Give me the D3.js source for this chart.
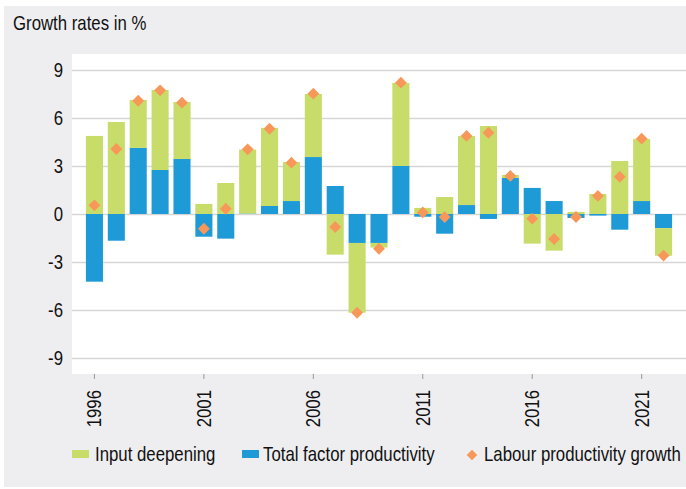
<!DOCTYPE html>
<html>
<head>
<meta charset="utf-8">
<script src="https://cdn.jsdelivr.net/npm/d3@7"></script>
<style>
  body { margin: 0; background: #fff; }
  svg { display: block; }
  text { font-family: "Liberation Sans", Arial, sans-serif; fill: #111; }
</style>
</head>
<body>
<script>
// data
const years = d3.range(1996, 2023);
const inputDeepening = [4.88, 5.75, 3.0, 5.0, 3.56, 0.63, 1.94, 4.0, 4.88, 2.44, 3.94, -2.54, -4.36, -0.29, 5.19, 0.38, 1.06, 4.31, 5.5, 0.19, -1.85, -2.29, 0.13, 1.25, 3.31, 3.88, -1.73];
const tfp = [-4.23, -1.67, 4.13, 2.75, 3.44, -1.42, -1.54, 0.03, 0.5, 0.81, 3.56, 1.75, -1.81, -1.81, 3.0, -0.17, -1.23, 0.56, -0.31, 2.25, 1.63, 0.81, -0.25, -0.1, -0.98, 0.81, -0.88];
const labourGrowth = [0.54, 4.06, 7.08, 7.73, 6.96, -0.92, 0.33, 4.04, 5.33, 3.21, 7.52, -0.81, -6.17, -2.17, 8.21, 0.1, -0.19, 4.88, 5.08, 2.38, -0.29, -1.56, -0.19, 1.13, 2.33, 4.71, -2.6];
const yTicks = [-9, -6, -3, 0, 3, 6, 9];
const xTicks = [1996, 2001, 2006, 2011, 2016, 2021];

const colors = { input: "#c8dc6a", tfp: "#1e9bd7", labour: "#f7985a" };

const W = 686, H = 489;
const plot = { left: 72, right: 686, top: 54, bottom: 374 };
const fs = "20px";
const squeeze = "scale(0.84,1)";   // condensed look of the original typeface

const svg = d3.select("body").append("svg")
    .attr("width", W)
    .attr("height", H);

// grey frame and white plot area
svg.append("rect")
    .attr("x", 4).attr("y", 6)
    .attr("width", W - 4).attr("height", H - 8)
    .attr("fill", "#eeeef0");
svg.append("rect")
    .attr("x", plot.left).attr("y", plot.top)
    .attr("width", plot.right - plot.left).attr("height", plot.bottom - plot.top)
    .attr("fill", "#fff");

svg.append("text")
    .attr("transform", `translate(13, 30) ${squeeze}`)
    .style("font-size", fs)
    .text("Growth rates in %");

const x = d3.scaleBand()
    .domain(years)
    .range([plot.left, plot.right])
    .paddingInner(0.22)
    .paddingOuter(0.635);

const y = d3.scaleLinear()
    .domain([-10, 10])
    .range([plot.bottom, plot.top]);

// y axis with gridlines
const yAxis = svg.append("g")
    .attr("transform", `translate(${plot.left}, 0)`)
    .call(d3.axisLeft(y)
        .tickValues(yTicks)
        .tickFormat(d => String(d))
        .tickSizeInner(-(plot.right - plot.left))
        .tickSizeOuter(0));
yAxis.select(".domain").remove();
yAxis.selectAll(".tick line")
    .attr("stroke", "#d6d6d6")
    .attr("stroke-width", 1.6);
yAxis.selectAll(".tick text")
    .style("font-size", fs)
    .attr("fill", "#111")
    .attr("x", 0)
    .attr("transform", `translate(-9, 0) ${squeeze}`);

// x axis
const xAxis = svg.append("g")
    .attr("transform", `translate(0, ${plot.bottom})`)
    .call(d3.axisBottom(x)
        .tickValues(xTicks)
        .tickSizeInner(5)
        .tickSizeOuter(0));
xAxis.select(".domain").remove();
xAxis.selectAll(".tick line")
    .attr("stroke", "#999")
    .attr("stroke-width", 1);
xAxis.selectAll(".tick text")
    .style("font-size", fs)
    .attr("fill", "#111")
    .attr("text-anchor", "end")
    .attr("x", 0)
    .attr("y", 0)
    .attr("dy", "0.35em")
    .attr("transform", `translate(0, 16) rotate(-90) ${squeeze}`);

// stacked bars, diverging around zero
const table = years.map((yr, i) => ({ year: yr, tfp: tfp[i], input: inputDeepening[i] }));
const series = d3.stack()
    .keys(["tfp", "input"])
    .offset(d3.stackOffsetDiverging)(table);

svg.append("g")
    .selectAll("g")
    .data(series)
    .join("g")
    .attr("fill", d => colors[d.key])
    .selectAll("rect")
    .data(d => d)
    .join("rect")
    .attr("x", d => x(d.data.year))
    .attr("width", x.bandwidth())
    .attr("y", d => y(Math.max(d[0], d[1])))
    .attr("height", d => Math.abs(y(d[0]) - y(d[1])));

// labour productivity markers
const diamond = d3.symbol(d3.symbolSquare, 70);
svg.append("g")
    .selectAll("path")
    .data(labourGrowth)
    .join("path")
    .attr("d", diamond)
    .attr("fill", colors.labour)
    .attr("transform", (d, i) => `translate(${x(years[i]) + x.bandwidth() / 2}, ${y(d)}) rotate(45)`);

// legend
const legend = svg.append("g").attr("transform", "translate(0, 454)");
const items = [
    { label: "Input deepening", type: "rect", color: colors.input, x: 72, tx: 95 },
    { label: "Total factor productivity", type: "rect", color: colors.tfp, x: 242, tx: 263 },
    { label: "Labour productivity growth", type: "diamond", color: colors.labour, x: 466, tx: 484 }
];
items.forEach(it => {
    if (it.type === "rect") {
        legend.append("rect")
            .attr("x", it.x).attr("y", -4)
            .attr("width", 17).attr("height", 8)
            .attr("fill", it.color);
    } else {
        legend.append("path")
            .attr("d", d3.symbol(d3.symbolSquare, 56)())
            .attr("fill", it.color)
            .attr("transform", `translate(${it.x + 6}, 1) rotate(45)`);
    }
    legend.append("text")
        .attr("transform", `translate(${it.tx}, 0) ${squeeze}`)
        .attr("dy", "0.35em")
        .style("font-size", fs)
        .text(it.label);
});
</script>
</body>
</html>
